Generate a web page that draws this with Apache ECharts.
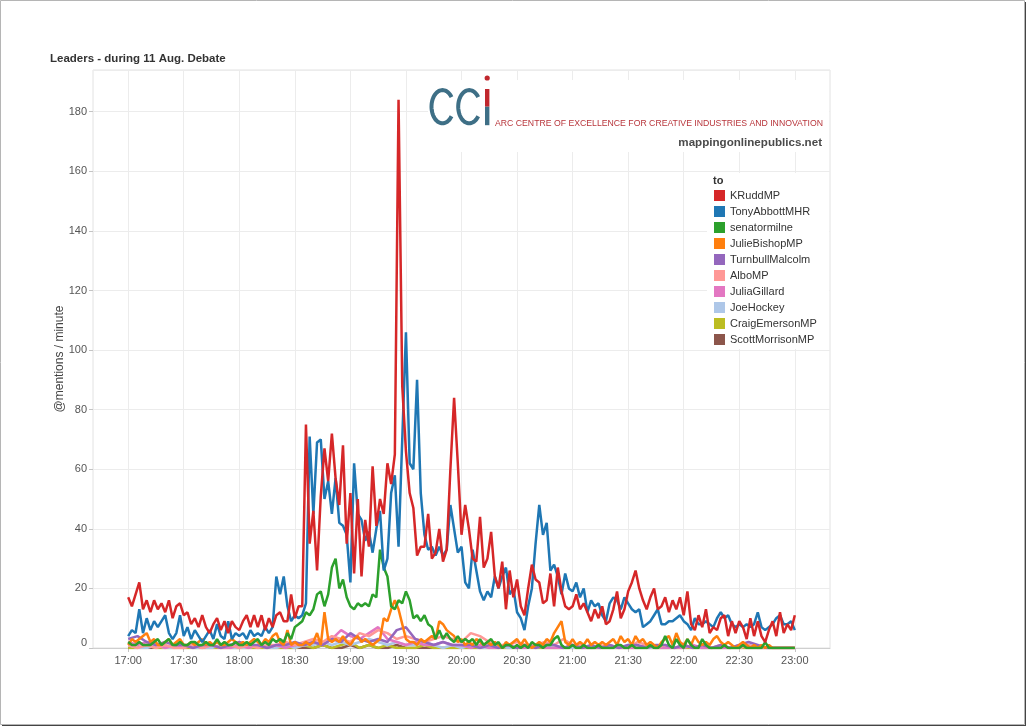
<!DOCTYPE html>
<html>
<head>
<meta charset="utf-8">
<script src="https://cdn.jsdelivr.net/npm/echarts@6/dist/echarts.min.js"></script>
<style>
html,body{margin:0;padding:0;background:#fff;}
#chart{width:1028px;height:728px;}
</style>
</head>
<body>
<div id="chart"></div>
<script>
// 坐标轴刻度
const timeLabels = ['17:00','17:30','18:00','18:30','19:00','19:30','20:00','20:30','21:00','21:30','22:00','22:30','23:00'];
const yTicks = [0,20,40,60,80,100,120,140,160,180];

// @mentions / minute —— 每 2 分钟一个点, 17:00 起
const kruddMP = [
	17,14,18,22,13,16,12,16,13,15, 12,16,10,14,15,11,12,8,10,7,
	11,7,5,8,10,6,9,5,9,7, 6,9,11,7,11,7,11,6,10,7,
	11,12,9,9,18,10,14,14,75,35, 46,26,51,67,56,72,57,48,68,35,
	52,25,50,24,43,34,61,41,50,45, 62,55,65,184,88,66,52,47,31,34,
	34,45,30,32,40,29,33,60,84,62, 38,48,40,30,29,44,27,30,39,24,
	20,29,13,26,17,23,14,11,20,28, 23,22,15,16,25,14,27,19,14,13,
	14,18,13,15,12,9,13,10,14,8, 9,13,19,10,13,19,22,26,20,16,
	13,17,20,13,14,17,12,16,13,17, 11,19,8,6,11,7,13,5,7,6,
	10,11,4,9,5,9,7,3,10,4, 9,4,2,6,9,4,12,5,8,6,
	11
];
const tonyAbbottMHR = [
	4,6,5,13,5,10,6,9,7,9, 11,5,3,5,11,4,7,3,6,4,
	2,4,6,3,8,4,3,9,3,5, 4,5,3,6,4,5,4,7,5,7,
	24,18,24,14,9,11,10,11,15,71, 45,69,70,50,56,45,57,42,41,38,
	22,62,45,43,36,39,32,40,46,26, 30,52,58,34,70,106,62,60,90,52,
	38,33,34,31,34,31,33,48,40,32, 34,22,20,33,26,19,16,19,17,24,
	20,24,27,18,20,12,10,6,14,20, 35,48,38,42,26,28,24,18,25,20,
	19,22,17,20,12,16,14,15,11,9, 15,17,16,13,17,15,13,12,13,7,
	8,9,11,13,8,8,9,9,10,11, 9,8,6,10,8,8,9,8,7,10,
	12,10,11,8,7,8,7,8,7,8, 12,7,6,7,8,10,11,8,8,9,
	6
];
const senatorMilne = [
	2,1,1,2,1,1,1,2,3,1, 2,3,1,1,2,1,1,2,2,1,
	1,2,1,1,3,1,2,1,1,2, 1,1,2,1,2,3,1,2,1,3,
	2,3,2,5,3,7,8,9,12,11, 13,18,19,14,18,27,30,20,23,17,
	14,13,15,14,15,14,18,17,33,27, 24,14,13,16,15,19,16,10,11,9,
	11,8,7,3,6,3,5,3,2,4, 2,3,2,3,1,3,1,2,3,1,
	2,0,1,1,0,1,0,1,0,2, 1,1,0,1,1,3,4,1,0,0,
	1,0,0,1,0,0,0,1,0,0, 0,0,1,1,0,0,1,0,0,0,
	0,1,0,0,1,4,1,0,3,1, 0,3,1,0,0,3,1,0,0,0,
	0,1,0,0,0,0,1,0,0,0, 0,0,2,0,0,0,0,0,0,0,
	0
];
const julieBishopMP = [
	1,3,2,3,4,5,2,3,1,1, 2,3,1,2,3,1,1,2,1,2,
	3,1,2,1,2,1,1,2,3,2, 1,2,1,2,3,2,1,3,2,4,
	5,2,1,6,1,2,1,1,2,1, 2,5,1,12,3,2,3,2,4,2,
	1,3,4,2,3,2,1,2,3,10, 9,13,16,13,8,3,2,2,1,3,
	2,3,4,3,9,8,6,5,4,2, 3,1,2,1,3,2,1,2,1,2,
	1,0,2,1,2,3,1,3,1,0, 1,2,1,3,2,5,7,9,2,1,
	3,1,2,1,3,1,2,1,2,1, 2,3,1,4,2,3,1,4,2,3,
	1,2,1,0,2,3,4,1,5,2, 1,3,1,4,2,1,2,1,3,4,
	2,1,2,1,0,1,2,1,0,1, 0,1,0,1,0,0,0,0,0,0,
	0
];
// 小账户 —— 每 5 分钟一个点
const turnbullMalcolm = [3,4,2,1,2,1,1,0,1,1, 0,1,2,1,1,0,1,1,2,1, 2,1,3,2,5,3,2,3,2,6, 7,3,2,1,2,1,1,1,0,1, 0,1,0,1,0,1,1,0,1,0, 1,0,1,0,1,1,0,1,1,0, 1,0,1,0,1,0,1,2,1,0, 0,0,0];
const alboMP          = [1,0,1,0,1,0,0,1,0,1, 0,1,0,1,0,1,1,2,1,2, 3,2,4,3,2,5,4,6,5,3, 4,3,2,3,4,3,2,5,4,2, 1,1,2,1,1,2,1,3,1,1, 0,1,0,1,0,2,1,0,1,0, 1,0,1,0,1,0,0,1,0,0, 0,0,0];
const juliaGillard    = [2,1,2,1,0,1,0,1,0,1, 0,0,1,0,1,0,1,0,1,1, 2,1,3,6,4,3,5,7,3,2, 1,2,1,1,2,1,1,0,1,0, 0,1,0,0,1,0,0,0,1,0, 0,0,1,0,0,0,1,0,0,0, 0,1,0,0,0,0,1,0,0,0, 0,0,0];
const joeHockey       = [1,0,0,1,0,0,1,0,0,0, 1,0,0,0,1,0,0,1,0,1, 1,2,1,2,1,2,3,2,1,2, 1,1,2,1,0,1,0,1,0,0, 1,0,0,0,0,1,0,0,0,1, 0,0,0,0,1,0,0,0,0,0, 1,0,0,0,0,0,0,1,0,0, 0,0,0];
const craigEmersonMP  = [0,0,1,0,0,0,0,0,0,0, 0,0,0,0,0,0,0,0,0,1, 0,1,0,1,2,0,1,0,1,0, 0,0,1,0,0,0,0,0,0,0, 0,0,0,1,0,0,0,0,0,0, 0,0,0,0,0,0,0,0,0,0, 0,0,0,0,0,0,0,0,0,0, 0,0,0];
const scottMorrisonMP = [0,0,0,0,0,0,0,0,0,0, 0,0,0,0,0,0,0,0,0,0, 0,1,0,0,1,0,1,0,0,1, 0,0,0,0,0,0,0,0,0,0, 0,0,0,0,0,0,0,0,0,0, 0,0,0,0,0,0,0,0,0,0, 0,0,0,0,0,0,0,0,0,0, 0,0,0];

// 系列: 名称 / 数据 / 采样间隔(分钟) / 颜色  (图例顺序)
const seriesDefs = [
	{ name:'KRuddMP',         data:kruddMP,         step:2, color:'#d62728' },
	{ name:'TonyAbbottMHR',   data:tonyAbbottMHR,   step:2, color:'#1f77b4' },
	{ name:'senatormilne',    data:senatorMilne,    step:2, color:'#2ca02c' },
	{ name:'JulieBishopMP',   data:julieBishopMP,   step:2, color:'#ff7f0e' },
	{ name:'TurnbullMalcolm', data:turnbullMalcolm, step:5, color:'#9467bd' },
	{ name:'AlboMP',          data:alboMP,          step:5, color:'#ff9896' },
	{ name:'JuliaGillard',    data:juliaGillard,    step:5, color:'#e377c2' },
	{ name:'JoeHockey',       data:joeHockey,       step:5, color:'#aec7e8' },
	{ name:'CraigEmersonMP',  data:craigEmersonMP,  step:5, color:'#bcbd22' },
	{ name:'ScottMorrisonMP', data:scottMorrisonMP, step:5, color:'#8c564b' }
];

const xTickMinutes = timeLabels.map((_, i) => i * 30);
const FONT = 'Liberation Sans, Arial, sans-serif';

// 文本宽度 -> 缩放比例
function fitScale(text, font, width){
	let ctx = document.createElement('canvas').getContext('2d');
	ctx.font = font;
	return width / ctx.measureText(text).width;
}

// 字母 C 的折线点 (椭圆弧, 开口向右)
function cPoints(cx, cy, rx, ry, deg){
	let pts = [];
	for(let a = deg; a <= 360 - deg; a += 5){
		let r = a * Math.PI / 180;
		pts.push([cx + rx * Math.cos(r), cy - ry * Math.sin(r)]);
	}
	return pts;
}

const arcText  = 'ARC CENTRE OF EXCELLENCE FOR CREATIVE INDUSTRIES AND INNOVATION';
const arcFont  = 'normal 8.8px ' + FONT;
const teal = '#3e6f86', logoRed = '#c0272d';

let chart = echarts.init(document.getElementById('chart'), null, { renderer:'canvas' });

let option = {
	animation: false,
	backgroundColor: '#fff',
	title: {
		text: 'Leaders - during 11 Aug. Debate',
		left: 50, top: 53, padding: 0,
		textStyle: { fontSize: 11.5, fontWeight: 'bold', color: '#333', fontFamily: FONT }
	},
	legend: {
		orient: 'vertical', left: 714, top: 190, padding: 0,
		itemWidth: 11, itemHeight: 11, itemGap: 5, icon: 'rect',
		selectedMode: false,
		data: seriesDefs.map(d => d.name),
		itemStyle: { borderWidth: 0 },
		textStyle: { fontSize: 11, color: '#333', fontFamily: FONT }
	},
	grid: {
		left: 93, top: 70, right: 198, bottom: 80,
		show: true, borderColor: '#e2e2e2', borderWidth: 1
	},
	xAxis: {
		type: 'value', min: -19, max: 379,
		axisLine: { show: true, onZero: false, lineStyle: { color: '#cfcfcf' } },
		axisTick: { show: true, customValues: xTickMinutes, length: 4, lineStyle: { color: '#c4c4c4' } },
		axisLabel: {
			customValues: xTickMinutes, margin: 7,
			formatter: v => timeLabels[Math.round(v / 30)],
			color: '#555', fontSize: 11, fontFamily: FONT
		},
		splitLine: { show: true, lineStyle: { color: '#ececec' } }
	},
	yAxis: {
		type: 'value', min: 0, max: 194, interval: 20,
		name: '@mentions / minute', nameLocation: 'middle', nameGap: 27, nameMoveOverlap: false,
		nameTextStyle: { fontSize: 12, color: '#444', fontFamily: FONT },
		axisLine: { show: false, onZero: false },
		axisTick: { show: true, length: 4, lineStyle: { color: '#c4c4c4' } },
		axisLabel: {
			showMaxLabel: false, margin: 6,
			formatter: v => yTicks.indexOf(v) === 0 ? '{zero|0}' : String(v),
			color: '#555', fontSize: 11, fontFamily: FONT,
			rich: { zero: { padding: [0,0,10,0], color: '#555', fontSize: 11, fontFamily: FONT } }
		},
		splitLine: { show: true, lineStyle: { color: '#ececec' } }
	},
	// 先画小的, KRuddMP 在最上层
	series: seriesDefs.slice().reverse().map(d => ({
		name: d.name, type: 'line',
		data: d.data.map((v, i) => [i * d.step, v]),
		symbol: 'none', color: d.color,
		lineStyle: { width: 2.5, color: d.color },
		emphasis: { disabled: true },
		clip: true
	})),
	graphic: [
		// 外框
		{ type:'rect', z:10, silent:true, shape:{ x:0.5, y:0.5, width:1024, height:724 }, style:{ fill:null, stroke:'#b5b5b5', lineWidth:1 } },
		{ type:'line', z:10, silent:true, shape:{ x1:1025.5, y1:2, x2:1025.5, y2:726 }, style:{ stroke:'#444', lineWidth:1 } },
		{ type:'line', z:10, silent:true, shape:{ x1:2, y1:725.5, x2:1026, y2:725.5 }, style:{ stroke:'#444', lineWidth:1 } },
		// logo 与图例的白底
		{ type:'rect', z:1, silent:true, shape:{ x:428, y:80, width:401, height:72 }, style:{ fill:'#fff' } },
		{ type:'rect', z:1, silent:true, shape:{ x:707, y:173, width:122, height:176 }, style:{ fill:'#fff' } },
		// 图例标题
		{ type:'text', z:6, silent:true, x:713, y:181,
		  style:{ text:'to', fill:'#333', font:'bold 11px ' + FONT, verticalAlign:'middle', textVerticalAlign:'middle' } },
		// CCi logo
		{ type:'polyline', z:6, silent:true, shape:{ points: cPoints(442.5, 106.7, 11, 16.6, 35) }, style:{ fill:null, stroke:teal, lineWidth:4 } },
		{ type:'polyline', z:6, silent:true, shape:{ points: cPoints(469.2, 106.7, 11, 16.6, 35) }, style:{ fill:null, stroke:teal, lineWidth:4 } },
		{ type:'circle', z:6, silent:true, shape:{ cx:487.2, cy:78, r:2.6 }, style:{ fill:logoRed } },
		{ type:'rect', z:6, silent:true, shape:{ x:485, y:89, width:4.4, height:17.7 }, style:{ fill:logoRed } },
		{ type:'rect', z:6, silent:true, shape:{ x:485, y:106.7, width:4.4, height:18.5 }, style:{ fill:teal } },
		{ type:'text', z:6, silent:true, x:495, y:123.5, scaleX: fitScale(arcText, arcFont, 328),
		  style:{ text:arcText, fill:'#b8353b', font:arcFont, verticalAlign:'middle', textVerticalAlign:'middle' } },
		{ type:'text', z:6, silent:true, x:822, y:143,
		  style:{ text:'mappingonlinepublics.net', fill:'#4a4a4a', font:'bold 11.6px ' + FONT,
		          align:'right', textAlign:'right', verticalAlign:'middle', textVerticalAlign:'middle' } }
	]
};
chart.setOption(option);
</script>
</body>
</html>
